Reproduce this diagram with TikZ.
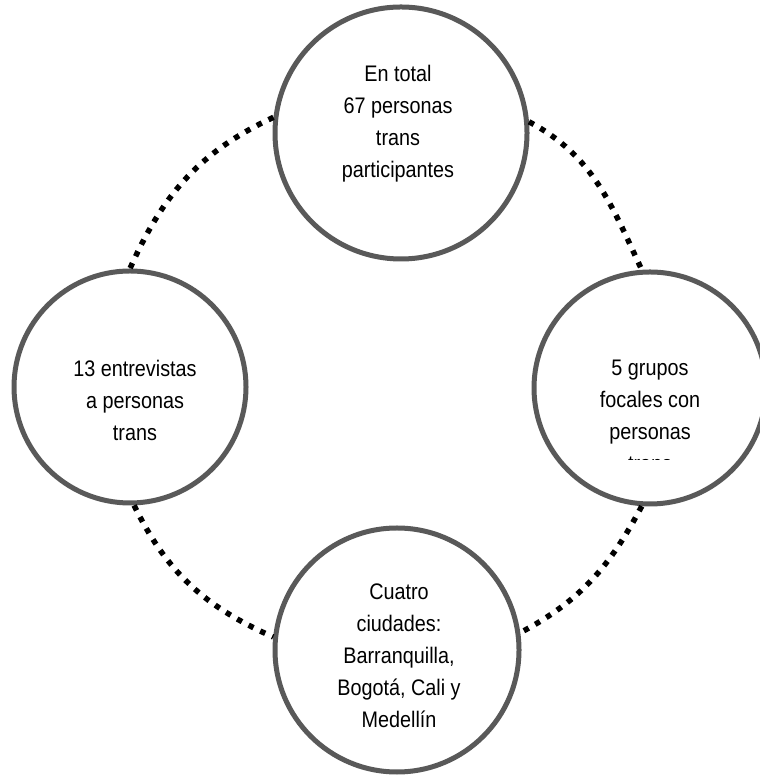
\documentclass[tikz,border=0pt]{standalone}
\usepackage{fontspec}
\setmainfont{Liberation Sans}[FakeStretch=0.88]
\tikzset{
	stage/.style={circle, draw=black!65, line width=5pt, fill=white, inner sep=0pt},
	ring/.style={line width=5.5pt, dash pattern=on 5.5pt off 7.5pt},
	txt/.style={align=center, font=\fontsize{22.5}{32}\selectfont}
}
\begin{document}
\begin{tikzpicture}[x=1pt, y=1pt]
			%%%%% START %%%%%
			
			\fill[white] (0, 0) rectangle (759, 775);
			\useasboundingbox (0, 0) rectangle (759, 775);
			
			\node[stage, minimum size=252] (top) at (401, 642) {};
			\node[stage, minimum size=232] (left) at (130, 388) {};
			\node[stage, minimum size=232] (right) at (650, 387) {};
			\node[stage, minimum size=244] (bottom) at (397, 125) {};
			
			\node[txt] (toptxt) at (398, 651) {En total\\67 personas\\trans\\participantes};
			\node[txt] (lefttxt) at (135, 375) {13 entrevistas\\a personas\\trans};
			\begin{scope}
				\clip (530, 315) rectangle (770, 460);
				\node[txt] (righttxt) at (650, 359) {5 grupos\\focales con\\personas\\trans};
			\end{scope}
			\node[txt] (bottomtxt) at (399, 119) {Cuatro\\ciudades:\\Barranquilla,\\Bogotá, Cali y\\Medellín};
			
			\draw[ring] (top.173) to[out=205, in=66] (left.90);
			\draw[ring] (top.5) to[out=-28, in=115] (right.94);
			\draw[ring] (right.-94) to[out=-118, in=28] (bottom.8);
			\draw[ring] (left.-88) to[out=-64, in=156] (bottom.174);
			
			%%%%% END %%%%%
		\end{tikzpicture}
\end{document}
